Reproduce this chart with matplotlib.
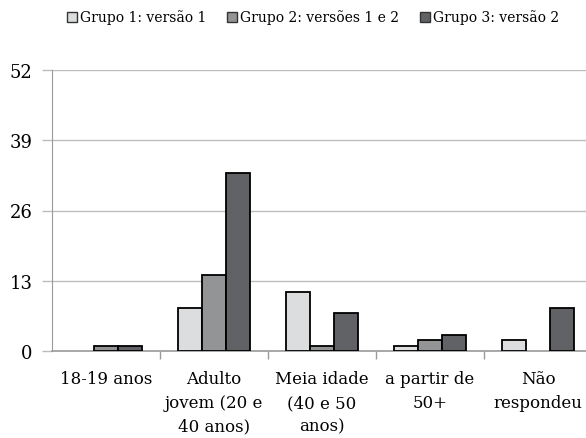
import matplotlib
matplotlib.use("Agg")
import matplotlib.pyplot as plt
import numpy as np
from matplotlib.patches import Patch

categories = ["18-19 anos", "Adulto\njovem (20 e\n40 anos)", "Meia idade\n(40 e 50\nanos)",
              "a partir de\n50+", "Não\nrespondeu"]
series_names = ["Grupo 1: versão 1", "Grupo 2: versões 1 e 2", "Grupo 3: versão 2"]
grupo1 = [0, 8, 11, 1, 2]
grupo2 = [1, 14, 1, 2, 0]
grupo3 = [1, 33, 7, 3, 8]
yticks = [0, 13, 26, 39, 52]

colors = ["#dcdddf", "#939496", "#616265"]

plt.rcParams["font.family"] = ["DejaVu Serif"]

fig = plt.figure(figsize=(5.86, 4.39), dpi=100)
ax = fig.add_axes([52 / 586, 87 / 439, 540 / 586, 281 / 439])

x = np.arange(len(categories))
w = 0.222
for i, vals in enumerate([grupo1, grupo2, grupo3]):
    bars = ax.bar(x + (i - 1) * w, vals, width=w, color=colors[i],
                  edgecolor="black", linewidth=1.3, zorder=3)
    # zero-height bars leave no visible outline
    for b, v in zip(bars, vals):
        if v == 0:
            b.set_linewidth(0)

ax.set_xlim(-0.5, len(categories) - 0.5)
ax.set_ylim(0, 52)
ax.set_yticks(yticks)
ax.set_yticklabels([str(t) for t in yticks], fontsize=13)
ax.yaxis.grid(True, color="#bdbdbd", linewidth=1.0, zorder=0)
ax.set_axisbelow(True)

ax.set_xticks(x)
ax.set_xticklabels(categories, fontsize=12, linespacing=1.5, va="top")
ax.tick_params(axis="x", length=0, pad=14)
ax.set_xticks(np.arange(0.5, len(categories) - 0.5, 1.0), minor=True)
ax.tick_params(axis="x", which="minor", length=6, color="#9a9a9a", width=1)
ax.tick_params(axis="y", length=7, color="#bdbdbd", width=1, pad=7)

for s in ["top", "right"]:
    ax.spines[s].set_visible(False)
ax.spines["left"].set_color("#9a9a9a")
ax.spines["bottom"].set_color("#9a9a9a")
ax.spines["bottom"].set_linewidth(1.2)

handles = [Patch(facecolor=c, edgecolor="#333333", linewidth=1.0) for c in colors]
fig.legend(handles, series_names, loc="center", bbox_to_anchor=(313 / 586, 1 - 18 / 439),
           ncol=3, frameon=False, fontsize=10, handlelength=0.75, handleheight=0.75,
           handletextpad=0.2, columnspacing=1.5)

fig.savefig("out.png", dpi=100)
